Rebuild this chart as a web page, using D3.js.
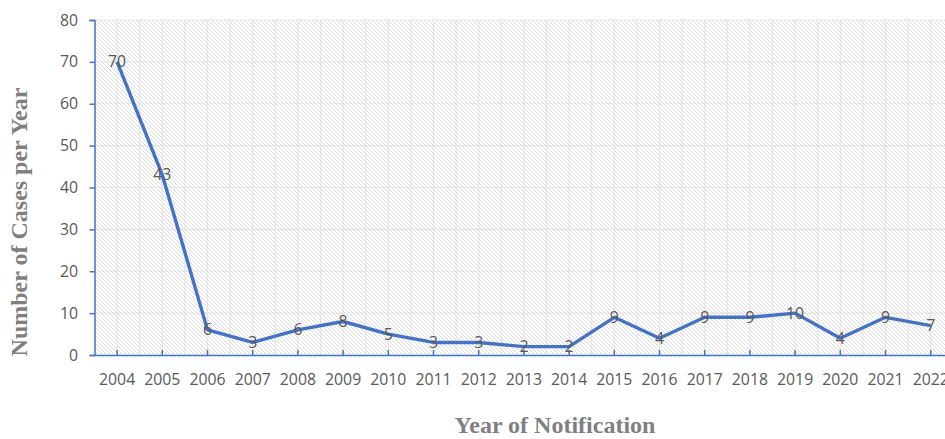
<!DOCTYPE html>
<html><head><meta charset="utf-8">
<script src="https://cdn.jsdelivr.net/npm/d3@7"></script>
<style>body{margin:0;background:#fff;overflow:hidden}</style>
</head><body>
<svg id="c" width="945" height="439"></svg>
<script>
const years = ["2004","2005","2006","2007","2008","2009","2010","2011","2012","2013","2014","2015","2016","2017","2018","2019","2020","2021","2022"];
const cases = [70,43,6,3,6,8,5,3,3,2,2,9,4,9,9,10,4,9,7];
const yTicks = [0,10,20,30,40,50,60,70,80];
const xTitle = "Year of Notification";
const yTitle = "Number of Cases per Year";

const svg = d3.select("#c");
const pLeft = 94.5, pTop = 20, pBottom = 355, band = 45.2;
const pRight = pLeft + band * years.length;

const x = d3.scaleBand().domain(years).range([pLeft, pRight]).paddingInner(0).paddingOuter(0);
const y = d3.scaleLinear().domain([0, 80]).range([pBottom, pTop]);

const defs = svg.append("defs");
const pat = defs.append("pattern").attr("id","hatch").attr("patternUnits","userSpaceOnUse")
  .attr("width",4).attr("height",4);
pat.append("rect").attr("width",4).attr("height",4).attr("fill","#fff");
pat.append("path").attr("d","M-1,-1 L5,5 M-1,3 L1,5 M3,-1 L5,1")
  .attr("stroke","#dcdcdc").attr("stroke-width",1);

svg.append("rect").attr("x",pLeft).attr("y",pTop).attr("width",pRight-pLeft).attr("height",pBottom-pTop).attr("fill","url(#hatch)");

// gridlines
const grid = svg.append("g").attr("stroke","#e4e4e4").attr("stroke-width",1.2);
yTicks.forEach(t => { if (t>0) grid.append("line").attr("x1",pLeft).attr("x2",pRight).attr("y1",y(t)).attr("y2",y(t)); });
years.forEach((yr,i) => {
  const cx = x(yr) + band/2;
  grid.append("line").attr("x1",cx).attr("x2",cx).attr("y1",pTop).attr("y2",pBottom);
  grid.append("line").attr("x1",x(yr)+band).attr("x2",x(yr)+band).attr("y1",pTop).attr("y2",pBottom);
});

const font = "'Open Sans', sans-serif", fs = "15.8px";
// axes
const yAxis = d3.axisLeft(y).tickValues(yTicks).tickSize(5).tickPadding(11.5);
const gy = svg.append("g").attr("transform",`translate(${pLeft},0)`).call(yAxis);
gy.select(".domain").attr("stroke","#4472C4").attr("stroke-width",1.5);
gy.selectAll(".tick line").attr("stroke","#4472C4").attr("stroke-width",1.5);
gy.selectAll("text").attr("fill","#595959").style("font-family",font).style("font-size",fs);

const xAxis = d3.axisBottom(x).tickSize(-5).tickPadding(19).tickSizeOuter(0);
const gx = svg.append("g").attr("transform",`translate(0,${pBottom})`).call(xAxis);
gx.select(".domain").attr("stroke","#4472C4").attr("stroke-width",1.5);
gx.selectAll(".tick line").attr("stroke","#4472C4").attr("stroke-width",1.5);
gx.selectAll("text").attr("fill","#595959").style("font-family",font).style("font-size",fs);

// line
const line = d3.line().x((d,i) => x(years[i]) + band/2).y(d => y(d));
svg.append("path").datum(cases).attr("d",line).attr("fill","none")
  .attr("stroke","#4472C4").attr("stroke-width",3.4).attr("stroke-linejoin","round");

// labels
svg.append("g").selectAll("text").data(cases).join("text")
  .attr("x",(d,i)=> x(years[i]) + band/2).attr("y", d => y(d))
  .attr("dy","0.35em").attr("text-anchor","middle")
  .attr("fill","#595959").style("font-family",font).style("font-size",fs)
  .text(d=>d);

// titles
svg.append("text").attr("x",555).attr("y",433).attr("text-anchor","middle")
  .attr("fill","#7f7f7f").style("font-family","'Liberation Serif', serif").style("font-weight","bold").style("font-size","24px")
  .text(xTitle);
svg.append("text").attr("transform","translate(27,222) rotate(-90)").attr("text-anchor","middle")
  .attr("fill","#7f7f7f").style("font-family","'Liberation Serif', serif").style("font-weight","bold").style("font-size","24px")
  .text(yTitle);
</script>
</body></html>
